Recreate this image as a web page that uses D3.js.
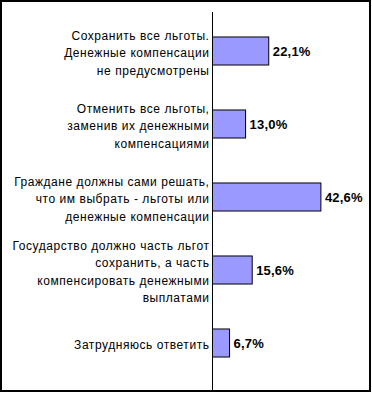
<!DOCTYPE html>
<html lang="ru">
  <head>
    <meta charset="UTF-8" />
    <title>Льготы</title>
    <style>
        body { margin: 0; background: #fff; }
        .cat { font-family: Arial, "Liberation Sans", sans-serif; font-size: 12px; letter-spacing: 0.55px; fill: #000; }
        .val { font-family: Arial, "Liberation Sans", sans-serif; font-size: 13px; font-weight: bold; letter-spacing: 0.2px; fill: #000; }
    </style>
    <script src="https://d3js.org/d3.v7.min.js"></script>
  </head>
  <body>
    <div id="chart"></div>
    <script>
        // категории (по строкам подписи)
        const categories = [
            ["Сохранить все льготы.", "Денежные компенсации", "не предусмотрены"],
            ["Отменить все льготы,", "заменив их денежными", "компенсациями"],
            ["Граждане должны сами решать,", "что им выбрать - льготы или", "денежные компенсации"],
            ["Государство должно часть льгот", "сохранить, а часть", "компенсировать денежными", "выплатами"],
            ["Затрудняюсь ответить"]
        ];
        const values = [22.1, 13.0, 42.6, 15.6, 6.7];
        const valueLabels = ["22,1%", "13,0%", "42,6%", "15,6%", "6,7%"];

        const width = 372, height = 395;
        const svg = d3.select("#chart").append("svg")
                    .attr("width", width)
                    .attr("height", height);

        // рамка
        svg.append("rect")
            .attr("x", 1).attr("y", 1)
            .attr("width", 369).attr("height", 390)
            .attr("fill", "none")
            .attr("stroke", "#000")
            .attr("stroke-width", 2);

        const idx = d3.range(values.length);
        const y = d3.scaleBand().domain(idx).range([14.5, 379.5])
                    .paddingInner(0.616).paddingOuter(0.308);
        const x = d3.scaleLinear().domain([0, 45]).range([212.5, 327]);

        svg.append("g")
            .selectAll("rect")
            .data(idx)
            .join("rect")
            .attr("x", x(0))
            .attr("y", i => y(i))
            .attr("width", i => x(values[i]) - x(0))
            .attr("height", y.bandwidth())
            .attr("fill", "#9999ff")
            .attr("stroke", "#000")
            .attr("stroke-width", 1);

        // ось
        svg.append("line")
            .attr("x1", 212.5).attr("x2", 212.5)
            .attr("y1", 12).attr("y2", 390)
            .attr("stroke", "#000");

        const lh = 17.5;
        const gCat = svg.append("g");
        idx.forEach(i => {
            const lines = categories[i];
            const cy = y(i) + y.bandwidth() / 2 + 2;
            const t = gCat.append("text")
                .attr("class", "cat")
                .attr("text-anchor", "end");
            lines.forEach((s, k) => {
                t.append("tspan")
                    .attr("x", 209.5)
                    .attr("y", cy + (k - (lines.length - 1) / 2) * lh + 4)
                    .text(s);
            });
        });

        svg.append("g")
            .selectAll("text")
            .data(idx)
            .join("text")
            .attr("class", "val")
            .attr("x", i => x(values[i]) + 4)
            .attr("y", i => y(i) + y.bandwidth() / 2 + 5)
            .text(i => valueLabels[i]);
    </script>
  </body>
</html>
